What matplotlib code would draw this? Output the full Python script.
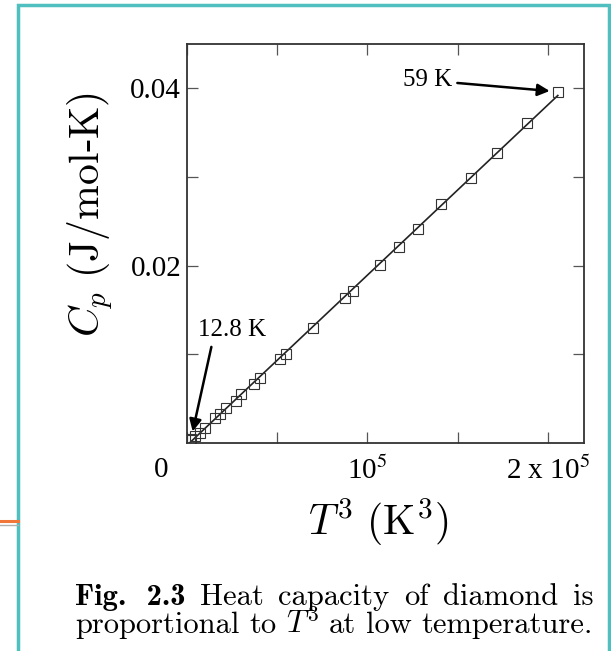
import numpy as np
import matplotlib
matplotlib.use("Agg")
import matplotlib.pyplot as plt
from matplotlib.patches import Rectangle
from matplotlib.lines import Line2D
import matplotlib.transforms as mtransforms

# T^3 (K^3) and Cp (J/mol-K)
t3 = [1660, 2600, 4430, 7200, 9970, 15510, 18280, 21990, 27150, 30300,
      37120, 40440, 51520, 54850, 69970, 87700, 92130, 107300, 117450,
      128100, 140900, 157200, 171900, 188200, 205500]
cp = [0.00031, 0.00042, 0.00079, 0.00116, 0.00173, 0.00286, 0.00324,
      0.00399, 0.00475, 0.00557, 0.00670, 0.00738, 0.00946, 0.01002,
      0.01296, 0.01635, 0.01718, 0.02003, 0.02207, 0.02415, 0.02697,
      0.02991, 0.03274, 0.03608, 0.03960]

x_ticks = [0, 1e5, 2e5]
x_ticklabels = ["0", r"10$^5$", r"2 x 10$^5$"]
x_minor = [0.5e5, 1.5e5]
y_ticks = [0.02, 0.04]
y_ticklabels = ["0.02", "0.04"]
y_minor = [0.01, 0.03]

caption_1 = ["Fig.  2.3", "Heat", "capacity", "of", "diamond", "is"]
caption_2 = ["proportional", "to", "$T^3$", "at", "low", "temperature."]

SERIF = "Liberation Serif"
plt.rcParams["font.family"] = [SERIF, "DejaVu Serif"]

W, H = 611, 651
fig = plt.figure(figsize=(W / 100, H / 100), dpi=100)
ax = fig.add_axes([186.7 / W, 1 - 443 / H, 397.3 / W, 399 / H])

t3 = np.array(t3)
cp = np.array(cp)
k, b = np.polyfit(t3, cp, 1)
xl = np.array([t3.min(), t3.max()])
ax.plot(xl, k * xl + b, color="#222222", lw=1.2, zorder=2)
ax.plot(t3, cp, ls="none", marker="s", ms=6.5, mfc="none", mec="#333333",
        mew=0.8, zorder=3)

ax.set_xlim(0, 2.2e5)
ax.set_ylim(0, 0.045)
ax.set_xticks(x_ticks)
ax.set_xticklabels(x_ticklabels, fontsize=21, math_fontfamily="stix")
ax.set_xticks(x_minor, minor=True)
ax.set_yticks(y_ticks)
ax.set_yticklabels(y_ticklabels, fontsize=21)
ax.set_yticks(y_minor, minor=True)
ax.tick_params(which="both", direction="in", length=8, width=0.9,
               color="#555555", top=True, right=True)
ax.tick_params(axis="x", pad=10)
ax.tick_params(axis="y", pad=4)
for s in ax.spines.values():
    s.set_color("#333333")
    s.set_linewidth(1.3)

# the "0" label sits left of the axis corner in the original
lab0 = ax.get_xticklabels()[0]
lab0.set_transform(lab0.get_transform() +
                   mtransforms.ScaledTranslation(-26 / 100, 0, fig.dpi_scale_trans))

arrow = dict(arrowstyle="-|>", color="black", lw=1.8, mutation_scale=18,
             shrinkA=2, shrinkB=0)
ax.annotate("59 K", xy=(2.01e5, 0.0397), xytext=(1.468e5, 0.0409),
            ha="right", va="center", fontsize=18, arrowprops=arrow)
ax.annotate("12.8 K", xy=(0.033e5, 0.0013), xytext=(0.249e5, 0.0127),
            ha="center", va="center", fontsize=18,
            arrowprops=dict(arrow, relpos=(0.22, 0.0)))

fig.text(90 / W, 1 - 214 / H, r"$C_p\ (\mathrm{J/mol}$-$\mathrm{K})$",
         rotation=90, ha="center", va="center", fontsize=30,
         math_fontfamily="cm")
fig.text(378 / W, 1 - 522 / H, r"$T^3\ (\mathrm{K}^3)$", ha="center",
         va="center", fontsize=30, math_fontfamily="cm")


def justified_line(words, y, x0=75, x1=593, size=20, bold_first=False):
    """place the words so the line fills x0..x1 like a typeset paragraph"""
    texts = []
    for i, w in enumerate(words):
        fam = "cmb10" if (bold_first and i == 0) else "cmr10"
        texts.append(fig.text(0, 1 - y / H, w, family=fam, fontsize=size,
                              math_fontfamily="cm", ha="left", va="baseline"))
    r = fig.canvas.get_renderer()
    widths = [t.get_window_extent(r).width for t in texts]
    gap = (x1 - x0 - sum(widths)) / (len(words) - 1)
    x = x0
    for t, wd in zip(texts, widths):
        t.set_x(x / W)
        x += wd + gap


justified_line(caption_1, 605, size=22, bold_first=True)
justified_line(caption_2, 633, size=22)

# slide frame
fig.patches.append(Rectangle((18 / W, -0.2), 591 / W, 1.2 - 5 / H,
                             transform=fig.transFigure, fill=False,
                             ec="#4fbfbf", lw=2.5))
fig.lines.append(Line2D([0, 18 / W], [1 - 521 / H] * 2, transform=fig.transFigure,
                        color="#f0763a", lw=2.2))
fig.lines.append(Line2D([0, 18 / W], [1 - 525 / H] * 2, transform=fig.transFigure,
                        color="#b0b0b0", lw=1.0))

fig.savefig("out.png", dpi=100)
